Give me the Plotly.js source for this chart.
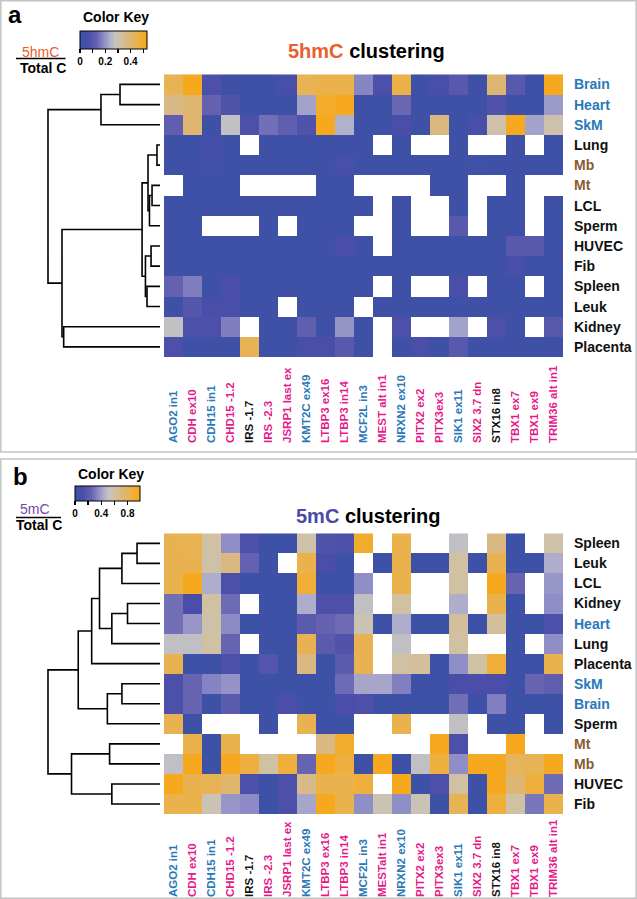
<!DOCTYPE html>
<html><head><meta charset="utf-8">
<script src="https://cdn.plot.ly/plotly-3.0.1.min.js"></script>
<style>body{margin:0;background:#fff}#chart{width:637px;height:899px}</style>
</head><body><div id="chart"></div>
<script>
// ---------- DATA ----------
const colLabelsA = ['AGO2 in1','CDH ex10','CDH15 in1','CHD15 -1.2','IRS -1.7','IRS -2.3','JSRP1 last ex','KMT2C ex49','LTBP3 ex16','LTBP3 in14','MCF2L in3','MEST alt in1','NRXN2 ex10','PITX2 ex2','PITX3ex3','SIK1 ex11','SIX2 3.7 dn','STX16 in8','TBX1 ex7','TBX1 ex9','TRIM36 alt in1'];
const colLabelsB = ['AGO2 in1','CDH ex10','CDH15 in1','CHD15 -1.2','IRS -1.7','IRS -2.3','JSRP1 last ex','KMT2C ex49','LTBP3 ex16','LTBP3 in14','MCF2L in3','MESTalt in1','NRXN2 ex10','PITX2 ex2','PITX3ex3','SIK1 ex11','SIX2 3.7 dn','STX16 in8','TBX1 ex7','TBX1 ex9','TRIM36 alt in1'];
const colGroups = ['b','p','b','p','k','p','p','b','p','p','b','p','b','p','p','b','p','k','p','p','p'];

const rowsA = ['Brain','Heart','SkM','Lung','Mb','Mt','LCL','Sperm','HUVEC','Fib','Spleen','Leuk','Kidney','Placenta'];
const rowsB = ['Spleen','Leuk','LCL','Kidney','Heart','Lung','Placenta','SkM','Brain','Sperm','Mt','Mb','HUVEC','Fib'];
const rowGroups = {Brain:'b',Heart:'b',SkM:'b',Mb:'m',Mt:'m'};

// 5hmC / total C
const hmcValues = [
 [0.44,0.52,0.07,0.02,0.02,0.02,0.06,0.44,0.45,0.45,0.18,0.07,0.46,0.02,0.06,0.10,0.02,0.40,0.10,0.02,0.52],
 [0.37,0.40,0.13,0.08,0.02,0.02,0.02,0.22,0.50,0.52,0.02,0.02,0.14,0.02,0.02,0.02,0.02,0.08,0.02,0.02,0.21],
 [0.12,0.40,0.02,0.27,0.07,0.15,0.12,0.08,0.52,0.24,0.02,0.02,0.06,0.02,0.38,0.02,0.06,0.31,0.52,0.22,0.31],
 [0.02,0.02,0.05,0.02,null,0.02,0.02,0.02,0.02,0.02,0.02,null,0.02,null,null,0.02,null,null,0.02,null,0.02],
 [0.02,0.02,0.03,0.02,0.02,0.02,0.02,0.02,0.02,0.06,0.02,0.02,0.02,0.02,0.02,0.02,0.03,0.02,0.02,0.02,0.02],
 [null,0.02,0.02,0.02,null,null,null,null,0.02,0.02,null,null,null,null,0.02,0.02,null,null,0.02,null,null],
 [0.02,0.02,0.02,0.02,0.02,0.02,0.02,0.02,0.02,0.02,0.02,null,0.02,null,null,0.02,null,0.02,0.02,null,0.02],
 [0.02,0.02,null,null,null,0.02,null,0.02,0.02,0.02,null,null,0.02,null,null,0.10,null,0.02,0.02,null,0.02],
 [0.02,0.02,0.02,0.02,0.02,0.02,0.02,0.02,0.02,0.06,0.02,null,0.02,0.02,0.02,0.02,0.02,0.02,0.10,0.10,0.02],
 [0.02,0.02,0.02,0.02,0.02,0.02,0.02,0.02,0.02,0.02,0.02,0.02,0.02,0.02,0.02,0.02,0.02,0.02,0.06,0.02,0.02],
 [0.13,0.17,0.02,0.06,0.02,0.02,0.02,0.02,0.02,0.02,0.02,null,0.02,null,null,0.06,null,0.02,0.02,null,0.02],
 [0.02,0.09,0.06,0.06,0.02,0.02,null,0.02,0.02,0.02,null,0.02,0.02,0.02,0.02,0.02,0.02,0.02,0.02,0.02,0.02],
 [0.27,0.07,0.07,0.17,null,0.02,0.02,0.12,0.02,0.20,0.02,null,0.07,null,null,0.22,null,0.07,0.02,null,0.10],
 [0.07,0.02,0.02,0.02,0.44,0.02,0.02,0.06,0.06,0.10,0.02,null,0.02,0.06,0.02,0.10,0.02,0.02,0.02,0.02,0.02]
];

// 5mC / total C
const mcValues = [
 [0.83,0.82,0.60,0.36,0.13,0.03,0.03,0.58,0.15,0.13,0.93,null,0.84,null,null,0.50,null,0.70,0.03,null,0.58],
 [0.83,0.83,0.58,0.70,0.24,0.03,null,0.84,0.12,0.03,null,0.03,0.84,0.03,0.03,0.60,0.03,0.83,0.03,0.03,0.44],
 [0.84,0.97,0.44,0.13,0.03,0.03,0.03,0.90,0.03,0.03,0.36,null,0.84,null,null,0.60,null,0.97,0.25,null,0.38],
 [0.28,0.12,0.60,0.27,null,0.03,0.03,0.44,0.13,0.13,0.50,null,0.60,null,null,0.44,null,0.84,0.03,null,0.36],
 [0.28,0.38,0.58,0.35,0.03,0.03,0.03,0.20,0.24,0.27,0.56,0.03,0.44,0.03,0.03,0.62,0.03,0.62,0.03,0.03,0.13],
 [0.50,0.50,0.60,0.25,null,0.03,0.03,0.83,0.20,0.15,0.83,null,0.50,null,null,0.60,null,null,0.03,null,0.36],
 [0.83,0.03,0.03,0.13,0.03,0.16,0.03,0.70,0.03,0.20,0.83,null,0.60,0.62,0.03,0.36,0.60,0.90,0.03,0.03,0.84],
 [0.13,0.25,0.33,0.37,0.03,0.03,0.03,0.03,0.03,0.27,0.42,0.42,0.32,0.03,0.03,0.12,0.12,0.12,0.03,0.25,0.22],
 [0.13,0.25,0.03,0.20,0.03,0.03,0.12,0.03,0.03,0.12,0.13,0.03,0.03,0.03,0.03,0.28,0.03,0.32,0.03,0.03,0.03],
 [0.83,0.03,null,null,null,0.03,null,0.83,0.03,0.03,null,null,0.84,null,null,0.50,null,0.03,0.03,null,0.03],
 [null,0.84,0.03,0.84,null,null,null,null,0.70,0.93,null,null,null,null,0.97,0.13,null,null,0.97,null,null],
 [0.50,0.97,0.03,0.97,0.88,0.60,0.88,0.25,0.97,0.88,0.03,0.97,0.03,0.50,0.88,0.36,0.97,0.97,0.80,0.82,0.97],
 [0.97,0.84,0.82,0.76,0.13,0.03,0.13,0.68,0.84,0.84,0.88,null,0.97,0.03,0.13,0.60,0.03,0.97,0.74,0.88,0.27],
 [0.84,0.84,0.56,0.38,0.35,0.03,0.13,0.42,0.97,0.84,0.36,0.56,0.36,0.56,0.03,0.82,0.03,0.88,0.60,0.30,0.84]
];

// linkage: [childA, childB, height]; leaf names or 'mN' = N-th merge
const linkageA = [
 ['Brain','Heart',0.357], ['m0','SkM',0.527],
 ['Lung','Mb',0.027], ['Mt','LCL',0.071], ['m3','Sperm',0.094], ['m2','m4',0.107],
 ['HUVEC','Fib',0.08], ['Spleen','Leuk',0.116], ['m6','m7',0.13], ['m5','m8',0.16],
 ['Kidney','Placenta',0.86], ['m9','m10',0.875], ['m1','m11',1.0]
];
const linkageB = [
 ['Spleen','Leuk',0.205], ['m0','LCL',0.34], ['Kidney','Heart',0.29], ['m2','Lung',0.43],
 ['m1','m3',0.54], ['m4','Placenta',0.61], ['SkM','Brain',0.34], ['m6','Sperm',0.47],
 ['m5','m7',0.73], ['Mt','Mb',0.45], ['HUVEC','Fib',0.43], ['m9','m10',0.79], ['m8','m11',1.0]
];

// ---------- STYLE ----------
const W = 637, H = 899;
const px = v => v / W, py = v => 1 - v / H;
const groupColor = {b:'#2878b8', p:'#e6198a', k:'#111111', m:'#8a5a2e'};
const cscale = [[0,'#3953a7'],[0.12,'#4a4ea8'],[0.25,'#6562b0'],[0.36,'#8f8dc6'],[0.45,'#b0b0cc'],[0.52,'#c4c4c2'],[0.62,'#d2c09e'],[0.72,'#dab77e'],[0.85,'#eab24c'],[1,'#f8a818']];
const FONT = 'Arial, Liberation Sans, sans-serif';

function dendro(leaves, link) {
  const leafPos = {}; leaves.forEach((n,i)=>leafPos[n]={y:i,h:0});
  const nodes = []; const xs = [], ys = [];
  const get = c => /^m\d+$/.test(c) ? nodes[+c.slice(1)] : leafPos[c];
  link.forEach(([a,b,h])=>{
    const A = get(a), B = get(b);
    xs.push(A.h, h, h, B.h, null); ys.push(A.y, A.y, B.y, B.y, null);
    nodes.push({y:(A.y+B.y)/2, h:h});
  });
  return {xs, ys};
}
const dA = dendro(rowsA, linkageA), dB = dendro(rowsB, linkageB);

const cbCommon = {orientation:'h', xanchor:'center', yanchor:'top', lenmode:'pixels', thicknessmode:'pixels',
  xpad:0, ypad:0, outlinewidth:1, outlinecolor:'#000', ticks:'outside', ticklen:4, tickwidth:1.3, tickcolor:'#000',
  tickfont:{family:FONT, size:10, color:'#000', weight:'bold'}};
const heatA = {type:'heatmap', x:colLabelsA, y:rowsA, z:hmcValues, xaxis:'x', yaxis:'y',
  colorscale:cscale, zmin:0, zmax:0.53, hoverongaps:false,
  colorbar:Object.assign({x:px(113.5), y:py(31), len:67, thickness:18,
    tickvals:[0,0.1,0.2,0.3,0.4,0.5], ticktext:['0','','0.2','','0.4','']}, cbCommon)};
const heatB = {type:'heatmap', x:colLabelsB, y:rowsB, z:mcValues, xaxis:'x2', yaxis:'y2',
  colorscale:cscale, zmin:0, zmax:0.99, hoverongaps:false,
  colorbar:Object.assign({x:px(107.5), y:py(486), len:65, thickness:15,
    tickvals:[0,0.2,0.4,0.6,0.8], ticktext:['0','','0.4','','0.8']}, cbCommon)};
const denA = {type:'scatter', mode:'lines', x:dA.xs, y:dA.ys, xaxis:'x3', yaxis:'y3',
  line:{color:'#000', width:1.6}, hoverinfo:'skip', showlegend:false};
const denB = {type:'scatter', mode:'lines', x:dB.xs, y:dB.ys, xaxis:'x4', yaxis:'y4',
  line:{color:'#000', width:1.6}, hoverinfo:'skip', showlegend:false};
// carriers for the column-label axes
const labA = {type:'scatter', mode:'markers', x:[0], y:[rowsA[0]], xaxis:'x5', yaxis:'y', marker:{opacity:0}, hoverinfo:'skip', showlegend:false};
const labB = {type:'scatter', mode:'markers', x:[0], y:[rowsB[0]], xaxis:'x6', yaxis:'y2', marker:{opacity:0}, hoverinfo:'skip', showlegend:false};

const hidden = {showgrid:false, zeroline:false, showticklabels:false, ticks:'', showline:false, fixedrange:true};
const hmX = [px(164), px(563)];
const yA = [py(357), py(74.3)], yB = [py(814), py(533.3)];
const dX = [px(44), px(162)];
const dRange = [(160-44)/112, (160-162)/112];
const colored = labels => labels.map((t,i)=>`<span style="color:${groupColor[colGroups[i]]}">${t}</span>`);
const labelAxis = (over, labels, yPx) => ({overlaying:over, anchor:'free', position:py(yPx), side:'top',
  range:[-0.5,20.5], tickmode:'array', tickvals:labels.map((t,i)=>i), ticktext:colored(labels), tickangle:-90,
  ticks:'', showgrid:false, zeroline:false, showline:false, fixedrange:true,
  tickfont:{family:FONT, size:11.5, weight:'bold', color:'#000'}});

const ann = [];
function rowAnn(rows, yref) {
  rows.forEach(r=>ann.push({text:r, x:px(572), xref:'paper', y:r, yref:yref, xanchor:'left', yanchor:'middle',
    showarrow:false, font:{family:FONT, size:14, color:groupColor[rowGroups[r]||'k'], weight:'bold'}}));
}
rowAnn(rowsA, 'y'); rowAnn(rowsB, 'y2');
const txt = (text, x, y, size, color, bold, xa, ya) => ann.push({text, x:px(x), y:py(y), xref:'paper', yref:'paper',
  xanchor:xa||'left', yanchor:ya||'middle', showarrow:false, font:{family:FONT, size, color, weight: bold?'bold':'normal'}});
txt('a', 6, 14, 24, '#000', true);
txt('b', 11, 476, 24, '#000', true);
txt('Color Key', 115.5, 17, 14, '#000', true, 'center');
txt('Color Key', 110.5, 474, 14, '#000', true, 'center');
txt('5hmC', 40.5, 52, 14, '#e8602c', false, 'center');
txt('Total C', 43, 67.5, 14, '#000', true, 'center');
txt('5mC', 35, 509, 14, '#7a45a8', false, 'center');
txt('Total C', 38.5, 525, 14, '#000', true, 'center');
txt('<span style="color:#e8602c">5hmC</span> clustering', 366, 51, 20, '#000', true, 'center');
txt('<span style="color:#4a4aa8">5mC</span> clustering', 368, 516, 20, '#000', true, 'center');

const shapes = [
  {type:'line', xref:'paper', yref:'paper', x0:px(16), x1:px(65.5), y0:py(58.5), y1:py(58.5), line:{color:'#000', width:1.5}},
  {type:'line', xref:'paper', yref:'paper', x0:px(16), x1:px(61), y0:py(517.5), y1:py(517.5), line:{color:'#000', width:1.5}},
  {type:'rect', xref:'paper', yref:'paper', x0:px(0.8), x1:px(636.2), y0:py(0.8), y1:py(452), line:{color:'#c4c4c4', width:1.5}},
  {type:'rect', xref:'paper', yref:'paper', x0:px(0.8), x1:px(636.2), y0:py(459), y1:py(898.2), line:{color:'#c4c4c4', width:1.5}}
];

const layout = {
  width:W, height:H, margin:{l:0,r:0,t:0,b:0}, paper_bgcolor:'#fff', plot_bgcolor:'rgba(0,0,0,0)',
  showlegend:false, font:{family:FONT},
  xaxis:Object.assign({domain:hmX, anchor:'y', range:[-0.5,20.5]}, hidden),
  yaxis:Object.assign({domain:yA, anchor:'x', range:[13.5,-0.5]}, hidden),
  xaxis2:Object.assign({domain:hmX, anchor:'y2', range:[-0.5,20.5]}, hidden),
  yaxis2:Object.assign({domain:yB, anchor:'x2', range:[13.5,-0.5]}, hidden),
  xaxis3:Object.assign({domain:dX, anchor:'y3', range:dRange}, hidden),
  yaxis3:Object.assign({domain:yA, anchor:'x3', range:[13.5,-0.5]}, hidden),
  xaxis4:Object.assign({domain:dX, anchor:'y4', range:dRange}, hidden),
  yaxis4:Object.assign({domain:yB, anchor:'x4', range:[13.5,-0.5]}, hidden),
  xaxis5:labelAxis('x', colLabelsA, 443),
  xaxis6:labelAxis('x2', colLabelsB, 897),
  annotations:ann, shapes:shapes
};
Plotly.newPlot('chart', [heatA, heatB, denA, denB, labA, labB], layout, {staticPlot:true, displayModeBar:false});
</script></body></html>
